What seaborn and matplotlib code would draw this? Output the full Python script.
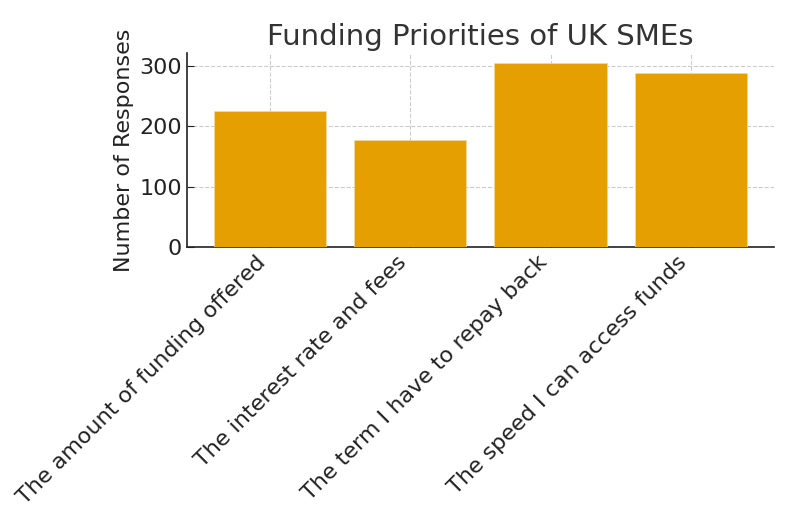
import matplotlib
matplotlib.use("Agg")
import matplotlib.pyplot as plt
import seaborn as sns
import pandas as pd

categories = ["The amount of funding offered", "The interest rate and fees",
              "The term I have to repay back", "The speed I can access funds"]
responses = [225, 177, 306, 289]

sns.set_style("ticks")
plt.rcParams['font.family'] = ['DejaVu Sans']
text_color = "#333333"

df = pd.DataFrame({"Priority": categories, "Responses": responses})

fig = plt.figure(figsize=(7.92, 5.28), dpi=100)
ax = fig.add_axes([0.236, 0.532, 0.741, 0.367])
sns.barplot(data=df, x="Priority", y="Responses", color="#E69F00", saturation=1,
            width=0.8, ax=ax, edgecolor="#f5d9a0", linewidth=0.5, zorder=3)
ax.set_xlim(-0.59, 3.59)
ax.set_ylim(0, 321.3)
ax.set_yticks([0, 100, 200, 300])
ax.grid(True, linestyle="--", color="#cccccc", linewidth=0.8, zorder=0)
ax.set_axisbelow(True)
for s in ["top", "right"]:
    ax.spines[s].set_visible(False)
for s in ["left", "bottom"]:
    ax.spines[s].set_color("#222222")
    ax.spines[s].set_linewidth(1.2)
ax.tick_params(axis="both", direction="in", labelsize=16, colors="#222222", labelcolor="#222222", length=5)
ax.set_xticks(range(len(categories)))
ax.set_xticklabels(categories, rotation=45, ha="right")
ax.set_xlabel("")
ax.set_ylabel("Number of Responses", fontsize=16, color="#222222")
ax.set_title("Funding Priorities of UK SMEs", fontsize=21, color=text_color)
fig.savefig("out.png", dpi=100)
